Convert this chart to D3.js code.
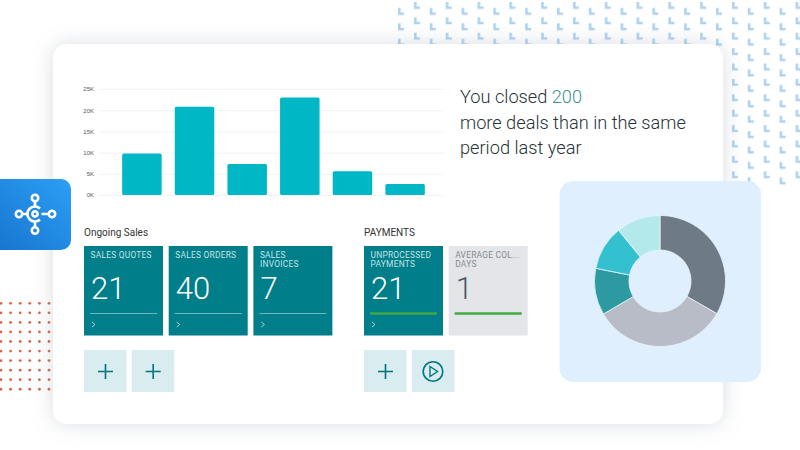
<!DOCTYPE html>
<meta charset="utf-8">
<title>Sales dashboard</title>
<style>
  html, body { margin: 0; padding: 0; background: #fff; }
  svg { display: block; font-family: "Open Sans", sans-serif; }
  .grid line { stroke: #f1f2f3; stroke-width: 1px; }
  .grid text { font-size: 6px; fill: #555; }
  .grid path { display: none; }
  .headline { font-family: Roboto, sans-serif; font-weight: 300; font-size: 18.2px; fill: #263238; }
  .section { font-family: Roboto, sans-serif; font-size: 10px; fill: #333; }
  .tile-title { font-family: Roboto, sans-serif; font-size: 8.4px; letter-spacing: 0.25px; }
  .tile-count { font-family: Roboto, sans-serif; font-size: 31px; font-weight: 300; }
</style>
<svg width="800" height="450"></svg>
<script src="https://d3js.org/d3.v7.min.js"></script>
<script>
  var months = ["a", "b", "c", "d", "e", "f"];
  var amounts = [9800, 20800, 7300, 23000, 5600, 2600];
  var yTicks = [0, 5000, 10000, 15000, 20000, 25000];

  var shareNames = ["dark", "light", "teal", "cyan", "pale"];
  var shares = [33.3, 33.3, 11.5, 11, 10.9];
  var shareColors = ["#6f7a87", "#b8bcc6", "#2d9aa2", "#33c1cf", "#b4e9ec"];

  var salesTitles = [["SALES QUOTES"], ["SALES ORDERS"], ["SALES", "INVOICES"]];
  var salesCounts = [21, 40, 7];
  var paymentTitles = [["UNPROCESSED", "PAYMENTS"], ["AVERAGE COL...", "DAYS"]];
  var paymentCounts = [21, 1];

  var svg = d3.select("svg");
  var defs = svg.append("defs");

  // soft card shadow
  var shadow = defs.append("filter").attr("id", "shadow")
    .attr("x", "-10%").attr("y", "-10%").attr("width", "120%").attr("height", "120%");
  shadow.append("feDropShadow").attr("dx", 0).attr("dy", 0)
    .attr("stdDeviation", 10).attr("flood-color", "#8a97a5").attr("flood-opacity", 0.32);

  var iconGrad = defs.append("linearGradient").attr("id", "iconGrad")
    .attr("x1", "100%").attr("y1", "0%").attr("x2", "0%").attr("y2", "100%");
  iconGrad.append("stop").attr("offset", "0%").attr("stop-color", "#2c9ff5");
  iconGrad.append("stop").attr("offset", "100%").attr("stop-color", "#1673cd");

  // blue L pattern behind the card
  var lPattern = defs.append("pattern").attr("id", "ticks")
    .attr("patternUnits", "userSpaceOnUse")
    .attr("x", 396).attr("y", 0).attr("width", 31.8).attr("height", 15.4);
  lPattern.append("path").attr("d", "M2,8v7h6v-2.4h-3.4v-4.6z").attr("fill", "#aed2ee");
  lPattern.append("path").attr("d", "M18,2v7h6v-2.4h-3.4v-4.6z").attr("fill", "#aed2ee");
  svg.append("rect").attr("x", 396).attr("y", 2).attr("width", 404).attr("height", 184)
    .attr("fill", "url(#ticks)");

  // red dots
  svg.append("g").selectAll("circle")
    .data(d3.cross(d3.range(6), d3.range(10)))
    .join("circle")
    .attr("cx", d => 1 + d[0] * 9.6)
    .attr("cy", d => 303.3 + d[1] * 9.55)
    .attr("r", 1.4)
    .attr("fill", "#d8674a");

  // main card
  svg.append("rect").attr("x", 53).attr("y", 44).attr("width", 670).attr("height", 380)
    .attr("rx", 14).attr("fill", "#fff").attr("filter", "url(#shadow)");

  // bar chart
  var y = d3.scaleLinear().domain([0, 25000]).range([195, 89]);
  var x = d3.scaleBand().domain(months).range([109, 438]).paddingInner(0.25).paddingOuter(0.25);

  svg.append("g").attr("class", "grid")
    .attr("transform", "translate(100,0)")
    .call(d3.axisLeft(y).tickValues(yTicks).tickSize(-343).tickPadding(6)
      .tickFormat(d => (d / 1000) + "K"));

  svg.append("g").selectAll("rect")
    .data(amounts)
    .join("rect")
    .attr("x", (d, i) => x(months[i]))
    .attr("y", d => y(d))
    .attr("width", x.bandwidth())
    .attr("height", d => y(0) - y(d))
    .attr("rx", 1.5)
    .attr("fill", "#00b7c5");

  // headline
  var headline = svg.append("text").attr("class", "headline");
  var first = headline.append("tspan").attr("x", 460).attr("y", 103);
  first.append("tspan").text("You closed ");
  first.append("tspan").attr("fill", "#3c8f95").text("200");
  headline.append("tspan").attr("x", 460).attr("y", 129).text("more deals than in the same");
  headline.append("tspan").attr("x", 460).attr("y", 154).text("period last year");

  // tiles
  svg.append("text").attr("class", "section").attr("x", 84).attr("y", 236).text("Ongoing Sales");
  svg.append("text").attr("class", "section").attr("x", 364).attr("y", 236).text("PAYMENTS");

  function drawTiles(titles, counts, left, isPayment) {
    var tile = svg.append("g").selectAll("g")
      .data(counts)
      .join("g")
      .attr("transform", (d, i) => "translate(" + (left + i * 84.7) + ",246)");
    var muted = i => isPayment && i === 1;

    tile.append("rect").attr("width", 79).attr("height", 89.5)
      .attr("fill", (d, i) => muted(i) ? "#e3e5e8" : "#007e8a");

    tile.each(function (d, i) {
      d3.select(this).selectAll("text.tile-title")
        .data(titles[i])
        .join("text")
        .attr("class", "tile-title")
        .attr("x", 6.5)
        .attr("y", (t, j) => 11.5 + j * 9.8)
        .attr("fill", muted(i) ? "#838c94" : "#c4e3e6")
        .text(t => t);
    });

    tile.append("text").attr("class", "tile-count")
      .attr("x", 7).attr("y", 53)
      .attr("fill", (d, i) => muted(i) ? "#4d5966" : "#fff")
      .text(d => d);

    tile.append("line")
      .attr("x1", 6).attr("x2", 73).attr("y1", 67.5).attr("y2", 67.5)
      .attr("stroke", isPayment ? "#3fa945" : "#6cb6bd")
      .attr("stroke-width", isPayment ? 2.5 : 1.2);

    tile.filter((d, i) => !muted(i)).append("path")
      .attr("d", "M8,76l3,2.5l-3,2.5")
      .attr("fill", "none").attr("stroke", "#a8d5da").attr("stroke-width", 1);
  }
  drawTiles(salesTitles, salesCounts, 84, false);
  drawTiles(paymentTitles, paymentCounts, 364, true);

  // action buttons
  function button(left) {
    var g = svg.append("g").attr("transform", "translate(" + left + ",350)");
    g.append("rect").attr("width", 42.5).attr("height", 42).attr("fill", "#d9edf0");
    return g;
  }
  [84, 131.7, 364].forEach(function (left) {
    button(left).append("path").attr("d", "M14,21.5h15M21.5,14v15")
      .attr("stroke", "#00747f").attr("stroke-width", 1.6).attr("fill", "none");
  });
  var play = button(412);
  play.append("circle").attr("cx", 21).attr("cy", 21.5).attr("r", 9.8)
    .attr("fill", "none").attr("stroke", "#00747f").attr("stroke-width", 1.6);
  play.append("path").attr("d", "M18,16.5l7.5,5l-7.5,5z")
    .attr("fill", "none").attr("stroke", "#00747f").attr("stroke-width", 1.4);

  // donut panel
  svg.append("rect").attr("x", 559.5).attr("y", 181).attr("width", 201.5).attr("height", 201)
    .attr("rx", 14).attr("fill", "#e0effd");

  var pie = d3.pie().sort(null)(shares);
  var arc = d3.arc().innerRadius(31).outerRadius(65.5);
  svg.append("g").attr("transform", "translate(660,281)")
    .selectAll("path")
    .data(pie)
    .join("path")
    .attr("d", arc)
    .attr("fill", (d, i) => shareColors[i])
    .attr("stroke", "#e8f4fd")
    .attr("stroke-width", 0.8)
    .attr("data-name", (d, i) => shareNames[i]);

  // app icon
  svg.append("path")
    .attr("d", "M-10,179H61a10,10 0 0 1 10,10V240a10,10 0 0 1 -10,10H-10z")
    .attr("fill", "url(#iconGrad)");
  var icon = svg.append("g").attr("transform", "translate(35,214)")
    .attr("fill", "none").attr("stroke", "#fff").attr("stroke-width", 2.6);
  icon.append("path").attr("d", "M0,-12.5V-7M-12.5,0H-7M6.5,0H13M0,7V12.5");
  icon.append("path").attr("d", "M5,-5.5A7.5,7.5 0 1 0 5,5.5");
  icon.append("circle").attr("r", 2.6);
  icon.selectAll("circle.node")
    .data([[0, -16], [-16, 0], [17, 0], [0, 16.5]])
    .join("circle")
    .attr("class", "node")
    .attr("cx", d => d[0]).attr("cy", d => d[1]).attr("r", 3.2);
</script>
